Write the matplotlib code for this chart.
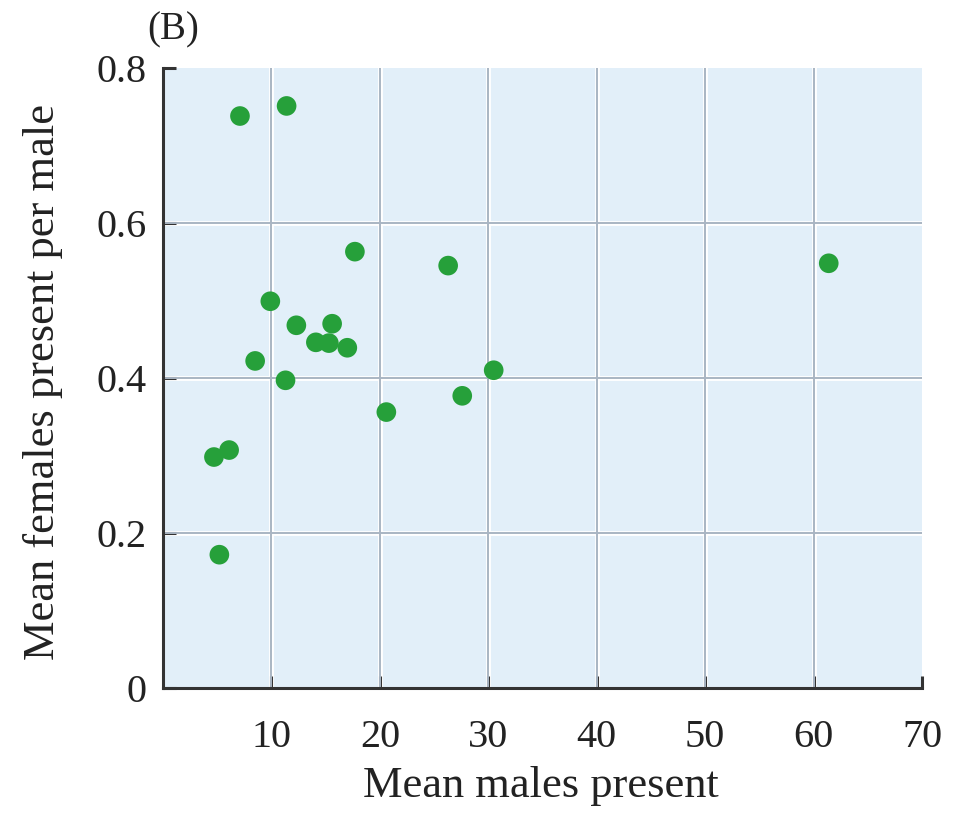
import numpy as np
import matplotlib.pyplot as plt

# mean males present vs. mean females present per male
males = [7.1, 11.4, 17.7, 26.3, 61.4, 9.9, 12.3, 15.6, 14.1, 15.3,
         17.0, 8.5, 11.3, 30.5, 27.6, 20.6, 4.7, 6.1, 5.2]
females = [0.738, 0.751, 0.563, 0.545, 0.548, 0.499, 0.468, 0.470, 0.446, 0.445,
           0.439, 0.422, 0.397, 0.410, 0.377, 0.356, 0.298, 0.307, 0.172]

xticks = [10, 20, 30, 40, 50, 60, 70]
yticks = [0, 0.2, 0.4, 0.6, 0.8]
ylabels = ['0', '0.2', '0.4', '0.6', '0.8']

plt.rc('font', family='Liberation Serif')
fig = plt.figure(figsize=(9.61, 8.14), dpi=100)
ax = fig.add_axes([0.1696, 0.1548, 0.7898, 0.7617])
ax.set_facecolor('#e2eff9')

ax.set_xlim(0, 70)
ax.set_ylim(0, 0.8)

# grid: grey lines with a faint white halo
for x in xticks[:-1]:
    ax.axvline(x, color='white', lw=3.5, zorder=1)
    ax.axvline(x, color='#a9b5c3', lw=1.4, zorder=2)
for y in yticks[1:-1]:
    ax.axhline(y, color='white', lw=3.5, zorder=1)
    ax.axhline(y, color='#a9b5c3', lw=1.4, zorder=2)

ax.scatter(males, females, s=200, color='#26a03a', edgecolors='none', zorder=3)

for side in ['top', 'right']:
    ax.spines[side].set_visible(False)
for side in ['left', 'bottom']:
    ax.spines[side].set_color('#333333')
    ax.spines[side].set_linewidth(2.2)

ax.set_xticks(xticks)
ax.set_yticks(yticks)
ax.set_yticklabels(ylabels)
ax.tick_params(direction='in', length=9, width=2.2, color='#333333',
               labelsize=29, labelcolor='#222222')
ax.tick_params(axis='x', pad=22)
ax.tick_params(axis='y', pad=12)

fig.text(541/961, 1 - 786/814, 'Mean males present', fontsize=32,
         color='#222222', ha='center', va='center')
fig.text(43/961, 1 - 382/814, 'Mean females present per male', fontsize=32,
         color='#222222', ha='center', va='center', rotation=90)
fig.text(147/961, 1 - 30/814, '(B)', fontsize=28, color='#222222',
         ha='left', va='center')

plt.savefig('out.png', dpi=100)
